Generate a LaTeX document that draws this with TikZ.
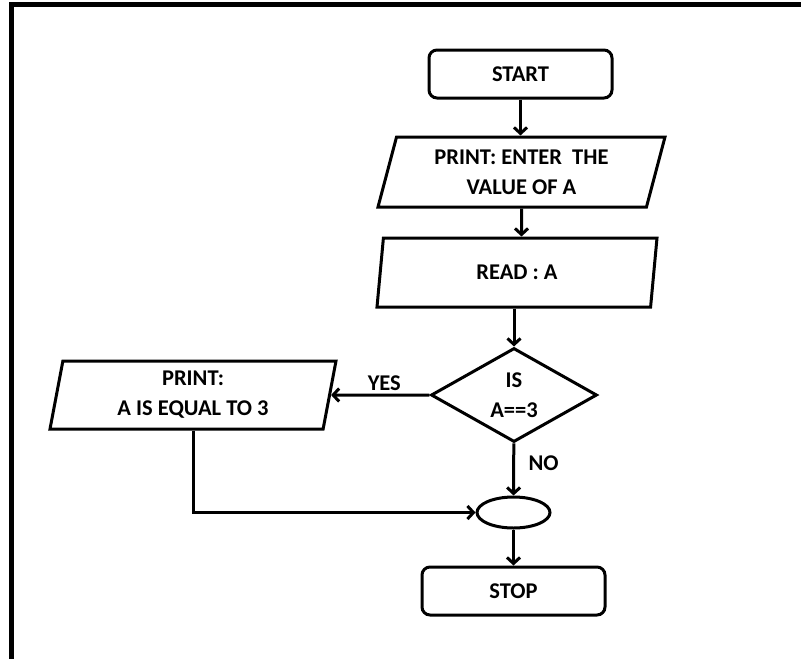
\documentclass[tikz,border=0pt]{standalone}
\usepackage{fontspec}
\setmainfont{Carlito}
\usetikzlibrary{shapes.geometric,arrows.meta}
\begin{document}
\begin{tikzpicture}[x=1pt,y=-1pt,line width=3pt,
  font=\fontsize{22.5}{30}\selectfont\bfseries,
  arr/.style={-{Straight Barb[length=6pt,width=13pt]}},
  term/.style={draw,rounded corners=8pt,minimum width=183pt,minimum height=48pt,inner sep=0pt},
  io/.style={draw,trapezium,trapezium stretches body,inner sep=0pt,align=center},
  dec/.style={draw,diamond,minimum width=166pt,minimum height=94pt,shape aspect=1.77,inner sep=0pt,align=center}]
\useasboundingbox (0,0) rectangle (801,659);
\draw[line width=5pt](801,4.5) -| (11.5,659);

\node[term] (start) at (520.5,74) {START};
\node[io,trapezium left angle=67.5,trapezium right angle=112.5,minimum width=287pt,minimum height=70pt] (pr1) at (521.5,172) {PRINT: ENTER~~THE\\VALUE OF A};
\node[io,trapezium left angle=66.5,trapezium right angle=113.5,minimum width=280pt,minimum height=69pt] (rd) at (517,272.5) {READ : A};
\node[dec] (test) at (514,395) {IS\\A==3};
\node[io,trapezium left angle=74.8,trapezium right angle=105.2,minimum width=286pt,minimum height=68pt] (pr3) at (193,395) {PRINT:\\A IS EQUAL TO 3};
\node[draw,ellipse,minimum width=73pt,minimum height=31pt,inner sep=0pt] (join) at (513.5,512.5) {};
\node[term] (stop) at (513.5,591) {STOP};

\draw[arr](start) -- (start |- pr1.north);
\draw[arr](pr1) -- (pr1 |- rd.north);
\draw[arr](rd.south -| test) -- (test);
\draw[arr](test) -- node[above,xshift=4pt]{YES} (pr3);
\draw[arr](test) -- node[right,xshift=10pt,yshift=6pt]{NO} (join);
\draw[arr](pr3.south -| pr3) |- (join);
\draw[arr](join) -- (stop);
\end{tikzpicture}
\end{document}
